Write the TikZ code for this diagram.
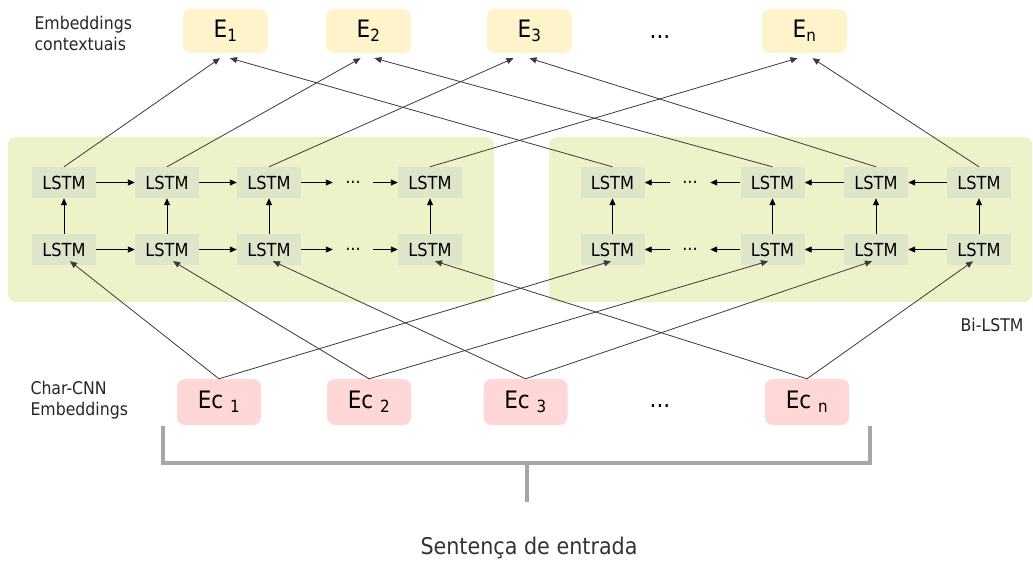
\documentclass[tikz,border=0pt]{standalone}
\usepackage{fontspec}
\setmainfont{DejaVu Sans Condensed}
\usetikzlibrary{arrows.meta}
\definecolor{panelgreen}{HTML}{EEF2C8}
\definecolor{cellgreen}{HTML}{DEE5C8}
\definecolor{outyellow}{HTML}{FFF3CC}
\definecolor{inpink}{HTML}{FFD7D7}
\definecolor{wire}{HTML}{3A3A3A}
\definecolor{brace}{HTML}{A6A6A6}
\begin{document}
\begin{tikzpicture}[x=1pt,y=-1pt,
    cell/.style={fill=cellgreen,minimum width=64pt,minimum height=31pt,inner sep=0pt,font=\fontsize{18}{20}\selectfont},
    outemb/.style={fill=outyellow,rounded corners=8pt,minimum width=85pt,minimum height=44pt,inner sep=0pt,font=\fontsize{24}{26}\selectfont},
    inemb/.style={fill=inpink,rounded corners=8pt,minimum width=84pt,minimum height=46pt,inner sep=0pt,font=\fontsize{24}{26}\selectfont},
    gap/.style={minimum width=40pt,inner sep=0pt,font=\fontsize{18}{20}\selectfont},
    lbl/.style={align=left,font=\fontsize{17.5}{21}\selectfont,text=black!85},
    flow/.style={-{Triangle[length=7pt,width=6pt]},line width=0.9pt},
    cross/.style={-{Triangle[length=7pt,width=6pt]},line width=0.8pt,draw=wire}]
  \useasboundingbox (0,0) rectangle (1033,563);
  % the two halves of the Bi-LSTM
  \fill[panelgreen,rounded corners=8pt] (8,137) rectangle (494,302);
  \fill[panelgreen,rounded corners=8pt] (549,137) rectangle (1032,302);

  % contextual embeddings
  \draw
    (225.5,31) node[outemb] (e1){E\textsubscript{1}}
    (368.5,31) node[outemb] (e2){E\textsubscript{2}}
    (529.5,31) node[outemb] (e3){E\textsubscript{3}}
    (660,37) node[gap,font=\fontsize{24}{26}\selectfont] (ed){...}
    (804.5,31) node[outemb] (en){E\textsubscript{n}};

  % forward layers
  \draw
    (64,182.5) node[cell] (ft1){LSTM}
    (167,182.5) node[cell] (ft2){LSTM}
    (269,182.5) node[cell] (ft3){LSTM}
    (353,182.5) node[gap] (fd1){...}
    (430,182.5) node[cell] (ft4){LSTM}
    (64,249.5) node[cell] (fb1){LSTM}
    (167,249.5) node[cell] (fb2){LSTM}
    (269,249.5) node[cell] (fb3){LSTM}
    (353,249.5) node[gap] (fd2){...}
    (430,249.5) node[cell] (fb4){LSTM};

  % backward layers
  \draw
    (612.5,182.5) node[cell] (bt1){LSTM}
    (690,182.5) node[gap] (bd1){...}
    (772.5,182.5) node[cell] (bt2){LSTM}
    (876,182.5) node[cell] (bt3){LSTM}
    (979,182.5) node[cell] (bt4){LSTM}
    (612.5,249.5) node[cell] (bb1){LSTM}
    (690,249.5) node[gap] (bd2){...}
    (772.5,249.5) node[cell] (bb2){LSTM}
    (876,249.5) node[cell] (bb3){LSTM}
    (979,249.5) node[cell] (bb4){LSTM};

  % char-CNN embeddings
  \draw
    (219,402) node[inemb] (c1){Ec \textsubscript{1}}
    (369,402) node[inemb] (c2){Ec \textsubscript{2}}
    (525.5,402) node[inemb] (c3){Ec \textsubscript{3}}
    (660,406) node[gap,font=\fontsize{24}{26}\selectfont] (cd){...}
    (807,402) node[inemb] (cn){Ec \textsubscript{n}};

  \node[lbl,anchor=west] (toplbl) at (31,33) {Embeddings\\contextuais};
  \node[lbl,anchor=west] (charlbl) at (27,400) {Char-CNN\\Embeddings};
  \node[lbl,anchor=east] (bilbl) at (1027,325) {Bi-LSTM};
  \node[font=\fontsize{23}{26}\selectfont,text=black!80] (sent) at (529,548) {Sentença de entrada};

  % recurrent links
  \begin{scope}[flow]
    \draw (ft1) to (ft2);
    \draw (ft2) to (ft3);
    \draw (ft3) to (fd1);
    \draw (fd1) to (ft4);
    \draw (fb1) to (fb2);
    \draw (fb2) to (fb3);
    \draw (fb3) to (fd2);
    \draw (fd2) to (fb4);
    \draw (bt4) to (bt3);
    \draw (bt3) to (bt2);
    \draw (bt2) to (bd1);
    \draw (bd1) to (bt1);
    \draw (bb4) to (bb3);
    \draw (bb3) to (bb2);
    \draw (bb2) to (bd2);
    \draw (bd2) to (bb1);
    \draw (fb1) to (ft1);
    \draw (fb2) to (ft2);
    \draw (fb3) to (ft3);
    \draw (fb4) to (ft4);
    \draw (bb1) to (bt1);
    \draw (bb2) to (bt2);
    \draw (bb3) to (bt3);
    \draw (bb4) to (bt4);
  \end{scope}

  % outputs of both directions
  \begin{scope}[cross]
    \draw (ft1.north) to ([xshift=-5.5pt,yshift=-5pt]e1.south);
    \draw (bt1.north) to ([xshift=4.5pt,yshift=-5pt]e1.south);
    \draw (ft2.north) to ([xshift=-8pt,yshift=-5pt]e2.south);
    \draw (bt2.north) to ([xshift=6pt,yshift=-5pt]e2.south);
    \draw (ft3.north) to ([xshift=-16pt,yshift=-5pt]e3.south);
    \draw (bt3.north) to ([xshift=0pt,yshift=-5pt]e3.south);
    \draw (ft4.north) to ([xshift=-7pt,yshift=-5pt]en.south);
    \draw (bt4.north) to ([xshift=8pt,yshift=-5pt]en.south);
  \end{scope}

  % inputs into both directions
  \begin{scope}[cross]
    \draw (c1.north) to ([xshift=6pt,yshift=4pt]fb1.south);
    \draw (c1.north) to ([xshift=-1.5pt,yshift=4pt]bb1.south);
    \draw (c2.north) to ([xshift=6pt,yshift=4pt]fb2.south);
    \draw (c2.north) to ([xshift=-4.5pt,yshift=4pt]bb2.south);
    \draw (c3.north) to ([xshift=4pt,yshift=4pt]fb3.south);
    \draw (c3.north) to ([xshift=-4pt,yshift=4pt]bb3.south);
    \draw (cn.north) to ([xshift=5pt,yshift=4pt]fb4.south);
    \draw (cn.north) to ([xshift=-6pt,yshift=4pt]bb4.south);
  \end{scope}

  % sentence bracket
  \draw[brace,line width=4pt] (163,426) -- (163,463) -- (870,463) -- (870,426);
  \draw[brace,line width=4pt] (527,463) -- (527,502);
\end{tikzpicture}
\end{document}
